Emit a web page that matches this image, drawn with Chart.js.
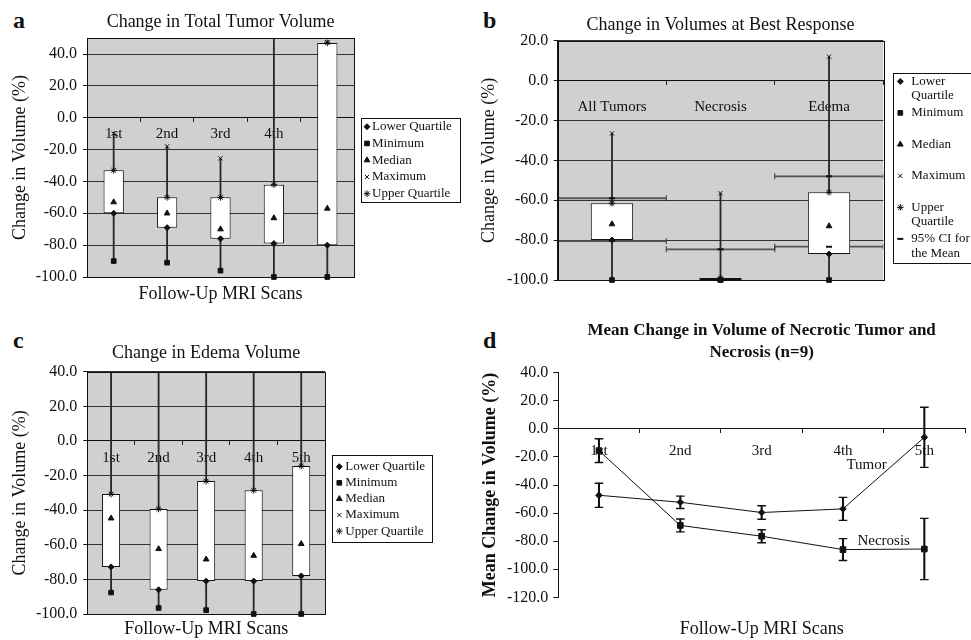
<!DOCTYPE html>
<html>
<head>
<meta charset="utf-8">
<title>Change in tumor, necrosis and edema volumes</title>
<script src="https://cdn.jsdelivr.net/npm/chart.js@4.4.1/dist/chart.umd.min.js"></script>
<style>
  html, body { margin:0; padding:0; background:#fff; }
  body { position:relative; width:971px; height:640px; overflow:hidden; }
  canvas { position:absolute; display:block; }
  .letter { position:absolute; font-family:"Liberation Serif","Times New Roman",serif; font-weight:bold; font-size:24px; line-height:24px; color:#111; }
</style>
</head>
<body>
<div class="letter" style="left:13px;top:8px">a</div>
<div class="letter" style="left:483px;top:8px">b</div>
<div class="letter" style="left:13px;top:328px">c</div>
<div class="letter" style="left:483px;top:328px">d</div>
<canvas id="chartA" width="480" height="320" style="left:0;top:0"></canvas>
<canvas id="chartB" width="491" height="320" style="left:480px;top:0"></canvas>
<canvas id="chartC" width="480" height="320" style="left:0;top:320px"></canvas>
<canvas id="chartD" width="491" height="320" style="left:480px;top:320px"></canvas>
<script>
// ---------------- data ----------------
const scanLabels = ['1st', '2nd', '3rd', '4th', '5th'];

// (a) Change in Total Tumor Volume
const totalMin    = [-90, -91, -96, -100, -100];
const totalLQ     = [-60, -69, -76, -79, -80];
const totalMedian = [-53, -60, -70, -63, -57];
const totalUQ     = [-33, -50, -50, -42, 47];
const totalMax    = [-10, -18, -25.5, 60, 47.5];

// (b) Change in Volumes at Best Response
const responseLabels = ['All Tumors', 'Necrosis', 'Edema'];
const bestMin    = [-100, -100, -100];
const bestLQ     = [-80, -100, -87];
const bestMedian = [-72, -100, -73];
const bestUQ     = [-61.5, -99, -56];
const bestMax    = [-26.5, -56.5, 12];
const bestCIHigh = [-59, -84.6, -48];
const bestCILow  = [-80.5, null, -83.3];

// (c) Change in Edema Volume
const edemaMin    = [-87.6, -96.5, -97.8, -100, -100];
const edemaLQ     = [-72.8, -86, -81, -81, -78];
const edemaMedian = [-44.7, -62.4, -68.4, -66.3, -59.5];
const edemaUQ     = [-30.7, -39.3, -23.2, -28.5, -14.5];
const edemaMax    = [62, 70, 58, 66, 75];

// (d) Mean change, necrotic tumor and necrosis (n=9)
const tumorMean    = [-47.3, -52.3, -59.6, -57.0, -6.0];
const tumorErr     = [8.6, 4.4, 4.8, 8.2, 21.4];
const necrosisMean = [-15.5, -68.8, -76.5, -86.0, -85.6];
const necrosisErr  = [8.5, 4.6, 4.6, 7.8, 21.8];

// ---------------- styling helpers ----------------
const FONT = '"Liberation Serif", "Times New Roman", Times, serif';
const INK = '#111';
Chart.defaults.font.family = FONT;
Chart.defaults.color = INK;

const plotFrame = {
  id: 'plotFrame',
  beforeDraw(chart, args, opts) {
    if (!opts || !opts.fill) return;
    const a = chart.chartArea, ctx = chart.ctx;
    ctx.save();
    ctx.fillStyle = opts.fill;
    ctx.fillRect(a.left, a.top, a.right - a.left, a.bottom - a.top);
    ctx.restore();
  },
  afterDraw(chart, args, opts) {
    if (!opts || !opts.stroke) return;
    const a = chart.chartArea, ctx = chart.ctx;
    ctx.save();
    ctx.strokeStyle = opts.stroke;
    ctx.lineWidth = 1;
    ctx.strokeRect(Math.round(a.left) + 0.5, Math.round(a.top) + 0.5,
                   Math.round(a.right - a.left), Math.round(a.bottom - a.top));
    ctx.restore();
  }
};

function drawMarker(ctx, style, r, rot, bw, x, y) {
  if (Chart.helpers && Chart.helpers.drawPoint) {
    Chart.helpers.drawPoint(ctx, {pointStyle: style, radius: r, rotation: rot || 0, borderWidth: bw}, x, y);
    return;
  }
  ctx.beginPath(); ctx.arc(x, y, r, 0, Math.PI * 2); ctx.fill();
}

const boxLegend = {
  id: 'boxLegend',
  afterDraw(chart, args, opts) {
    if (!opts || !opts.display) return;
    const ctx = chart.ctx, a = chart.chartArea;
    const items = chart.data.datasets.filter(d => d.legendText);
    const x0 = Math.round(a.right + opts.dx), y0 = Math.round(a.top + opts.dy);
    ctx.save();
    ctx.fillStyle = '#fff';
    ctx.fillRect(x0, y0, opts.width, opts.height);
    ctx.strokeStyle = INK; ctx.lineWidth = 1;
    ctx.strokeRect(x0 + 0.5, y0 + 0.5, opts.width, opts.height);
    ctx.font = opts.font; ctx.textBaseline = 'middle'; ctx.textAlign = 'left';
    items.forEach((d, i) => {
      const y = y0 + opts.firstRow + i * opts.rowHeight;
      ctx.fillStyle = INK; ctx.strokeStyle = INK; ctx.lineWidth = d.pointBorderWidth || 1;
      drawMarker(ctx, d.pointStyle, d.pointRadius, d.pointRotation, d.pointBorderWidth || 1, x0 + opts.markerX, y);
      ctx.fillStyle = INK;
      d.legendText.forEach((t, j) => ctx.fillText(t, x0 + opts.textX, y + j * opts.lineHeight));
    });
    ctx.restore();
  }
};

const textNotes = {
  id: 'textNotes',
  afterDatasetsDraw(chart, args, opts) {
    if (!opts || !opts.items) return;
    const ctx = chart.ctx;
    ctx.save();
    ctx.font = opts.font; ctx.fillStyle = INK; ctx.textAlign = 'center'; ctx.textBaseline = 'middle';
    opts.items.forEach(n => ctx.fillText(n.text, chart.scales.x.getPixelForValue(n.x), chart.scales.y.getPixelForValue(n.y)));
    ctx.restore();
  }
};

const fmt = v => Number(v).toFixed(1);
const POINT_CLIP = {left: 8, right: 8, top: 0, bottom: 6};

function markerSet(label, data, style, radius, extra) {
  return Object.assign({
    type: 'line', label, data, showLine: false,
    pointStyle: style, pointRadius: radius, pointHoverRadius: radius,
    pointBackgroundColor: INK, pointBorderColor: INK, pointBorderWidth: 1,
    borderColor: INK, backgroundColor: INK,
    legendText: [label], order: 1, clip: POINT_CLIP
  }, extra || {});
}

function boxPlotSets(mins, lqs, meds, uqs, maxs, boxWidth) {
  return [
    { type: 'bar', label: 'range', data: mins.map((v, i) => [v, maxs[i]]),
      backgroundColor: '#2a2a2a', barThickness: 1.2, grouped: false, order: 3, clip: 0 },
    { type: 'bar', label: 'box', data: lqs.map((v, i) => [v, uqs[i]]),
      backgroundColor: '#fff', borderColor: INK, borderWidth: 1, borderSkipped: false,
      barPercentage: boxWidth, categoryPercentage: 1, grouped: false, order: 2, clip: 0 },
    markerSet('Lower Quartile', lqs, 'rectRot', 3),
    markerSet('Minimum', mins, 'rect', 3.3),
    markerSet('Median', meds, 'triangle', 3.3),
    markerSet('Maximum', maxs, 'crossRot', 3),
    markerSet('Upper Quartile', uqs, 'star', 3.3)
  ];
}

function yAxis(c) {
  return {
    type: 'linear', position: 'left', min: c.min, max: c.max,
    afterFit: s => { s.width = c.width; },
    ticks: { stepSize: 20, includeBounds: false, autoSkip: false, padding: c.tickPad,
             font: {size: 16}, color: INK, callback: fmt },
    grid: { drawOnChartArea: c.grid, color: '#333', lineWidth: 1, tickLength: c.tickLen, tickColor: INK },
    border: { display: true, color: INK, width: 1 },
    title: { display: true, text: c.title, color: INK,
             font: {size: 18, weight: c.bold ? 'bold' : 'normal', lineHeight: 1},
             padding: {top: c.titlePad, bottom: 0} }
  };
}

function xAxis(c) {
  return {
    type: 'category', offset: true, position: {y: 0},
    ticks: { font: {size: 15}, padding: c.pad, color: INK, maxRotation: 0, autoSkip: false },
    grid: { offset: true, drawOnChartArea: false, drawTicks: true, tickLength: 4, color: '#222', tickColor: '#222' },
    border: { display: true, color: INK, width: 1 }
  };
}

function titleOpts(text, top, bottom, size, weight, lh) {
  return { display: true, text, color: INK, fullSize: false,
           font: {size: size || 18, weight: weight || 'normal', lineHeight: lh || 1.2},
           padding: {top, bottom} };
}
function xTitleOpts(top) {
  return { display: true, position: 'bottom', text: 'Follow-Up MRI Scans', color: INK, fullSize: false,
           font: {size: 18, weight: 'normal', lineHeight: 1.2}, padding: {top, bottom: 0} };
}

const base = { responsive: false, animation: false, devicePixelRatio: 1 };

// ---------------- (a) ----------------
new Chart(document.getElementById('chartA'), {
  type: 'bar',
  data: { labels: scanLabels, datasets: boxPlotSets(totalMin, totalLQ, totalMedian, totalUQ, totalMax, 0.38) },
  options: Object.assign({}, base, {
    layout: { padding: {left: 0, right: 126, top: 0, bottom: 14.9} },
    scales: {
      x: xAxis({pad: 3}),
      y: yAxis({min: -100, max: 50, width: 87, tickPad: 6, tickLen: 4, grid: true, title: 'Change in Volume (%)', titlePad: 11})
    },
    plugins: {
      legend: {display: false}, tooltip: {enabled: false},
      title: titleOpts('Change in Total Tumor Volume', 11, 5.5),
      subtitle: xTitleOpts(6.5),
      plotFrame: {fill: '#d0d0d0', stroke: INK},
      boxLegend: {display: true, dx: 6.7, dy: 80, width: 99, height: 84, firstRow: 8.7, rowHeight: 16.75,
                  lineHeight: 14, markerX: 6, textX: 11, font: '13px ' + FONT}
    }
  }),
  plugins: [plotFrame, boxLegend]
});

// ---------------- (b) ----------------
function ciSpans(values) {
  const pts = [];
  values.forEach((v, i) => {
    if (v === null) return;
    pts.push({x: i - 0.5, y: v}, {x: i + 0.5, y: v}, {x: i + 0.5, y: null});
  });
  return pts;
}
const bSets = boxPlotSets(bestMin, bestLQ, bestMedian, bestUQ, bestMax, 0.39);
bSets[2].legendText = ['Lower', 'Quartile'];
bSets[6].legendText = ['Upper', 'Quartile'];
bSets.push(
  markerSet('95% CI for the Mean', bestCIHigh, 'line', 3, {pointBorderWidth: 2, legendText: ['95% CI for', 'the Mean']}),
  markerSet('95% CI low', bestCILow, 'line', 3, {pointBorderWidth: 2, legendText: undefined}),
  { type: 'line', label: 'CI span high', xAxisID: 'xl', data: ciSpans(bestCIHigh), borderColor: '#555', borderWidth: 1.8,
    pointStyle: 'line', pointRotation: 90, pointRadius: 3, pointBorderColor: '#333', pointBorderWidth: 1,
    spanGaps: false, order: 4, clip: 0 },
  { type: 'line', label: 'CI span low', xAxisID: 'xl', data: ciSpans(bestCILow), borderColor: '#555', borderWidth: 1.8,
    pointStyle: 'line', pointRotation: 90, pointRadius: 3, pointBorderColor: '#333', pointBorderWidth: 1,
    spanGaps: false, order: 4, clip: 0 }
);
new Chart(document.getElementById('chartB'), {
  type: 'bar',
  data: { labels: responseLabels, datasets: bSets },
  options: Object.assign({}, base, {
    layout: { padding: {left: 0, right: 87.7, top: 0, bottom: 40} },
    scales: {
      x: xAxis({pad: 13}),
      xl: { type: 'linear', display: false, offset: false, min: -0.5, max: 2.5, grid: {offset: false} },
      y: yAxis({min: -100, max: 20, width: 77.7, tickPad: 5.4, tickLen: 4, grid: true, title: 'Change in Volume (%)', titlePad: 0})
    },
    plugins: {
      legend: {display: false}, tooltip: {enabled: false},
      title: titleOpts('Change in Volumes at Best Response', 14.2, 4.9),
      plotFrame: {fill: '#d0d0d0', stroke: INK},
      boxLegend: {display: true, dx: 10, dy: 32.6, width: 120, height: 190, firstRow: 8.4, rowHeight: 31.5,
                  lineHeight: 14.5, markerX: 7.3, textX: 18.3, font: '13px ' + FONT}
    }
  }),
  plugins: [plotFrame, boxLegend]
});

// ---------------- (c) ----------------
new Chart(document.getElementById('chartC'), {
  type: 'bar',
  data: { labels: scanLabels, datasets: boxPlotSets(edemaMin, edemaLQ, edemaMedian, edemaUQ, edemaMax, 0.38) },
  options: Object.assign({}, base, {
    layout: { padding: {left: 0, right: 155, top: 0, bottom: 0} },
    scales: {
      x: xAxis({pad: 4}),
      y: yAxis({min: -100, max: 40, width: 87.3, tickPad: 6, tickLen: 4, grid: true, title: 'Change in Volume (%)', titlePad: 11})
    },
    plugins: {
      legend: {display: false}, tooltip: {enabled: false},
      title: titleOpts('Change in Edema Volume', 22.5, 7.6),
      subtitle: xTitleOpts(4.4),
      plotFrame: {fill: '#d0d0d0', stroke: INK},
      boxLegend: {display: true, dx: 6.7, dy: 83.3, width: 100, height: 87, firstRow: 11.7, rowHeight: 16.1,
                  lineHeight: 14, markerX: 7.3, textX: 13.3, font: '13px ' + FONT}
    }
  }),
  plugins: [plotFrame, boxLegend]
});

// ---------------- (d) ----------------
function errStem(means, errs) {
  return { type: 'bar', data: means.map((m, i) => [m - errs[i], m + errs[i]]),
           backgroundColor: INK, barThickness: 1.4, grouped: false, order: 3 };
}
function errCap(means, errs, sign) {
  return markerSet('cap', means.map((m, i) => m + sign * errs[i]), 'line', 4.3,
                   {pointBorderWidth: 1.4, legendText: undefined, order: 2, clip: undefined});
}
new Chart(document.getElementById('chartD'), {
  type: 'line',
  data: {
    labels: scanLabels,
    datasets: [
      errStem(tumorMean, tumorErr), errStem(necrosisMean, necrosisErr),
      errCap(tumorMean, tumorErr, 1), errCap(tumorMean, tumorErr, -1),
      errCap(necrosisMean, necrosisErr, 1), errCap(necrosisMean, necrosisErr, -1),
      { type: 'line', label: 'Tumor', data: tumorMean, borderColor: INK, borderWidth: 1, tension: 0,
        pointStyle: 'rectRot', pointRadius: 3.3, pointBackgroundColor: INK, pointBorderColor: INK, order: 1 },
      { type: 'line', label: 'Necrosis', data: necrosisMean, borderColor: INK, borderWidth: 1, tension: 0,
        pointStyle: 'rect', pointRadius: 4, pointBackgroundColor: INK, pointBorderColor: INK, order: 1 }
    ]
  },
  options: Object.assign({}, base, {
    layout: { padding: {left: 0, right: 6, top: 0, bottom: 0} },
    scales: {
      x: xAxis({pad: 9}),
      y: yAxis({min: -120, max: 40, width: 78.3, tickPad: 5, tickLen: 5, grid: false, bold: true,
                title: 'Mean Change in Volume (%)', titlePad: 1})
    },
    plugins: {
      legend: {display: false}, tooltip: {enabled: false},
      title: titleOpts(['Mean Change in Volume of Necrotic Tumor and', 'Necrosis (n=9)'], 0, 9.9, 17, 'bold', 1.26),
      subtitle: xTitleOpts(21.1),
      textNotes: { font: '15px ' + FONT,
                   items: [{text: 'Tumor', x: 3.29, y: -26}, {text: 'Necrosis', x: 3.5, y: -79.6}] }
    }
  }),
  plugins: [textNotes]
});
</script>
</body>
</html>
